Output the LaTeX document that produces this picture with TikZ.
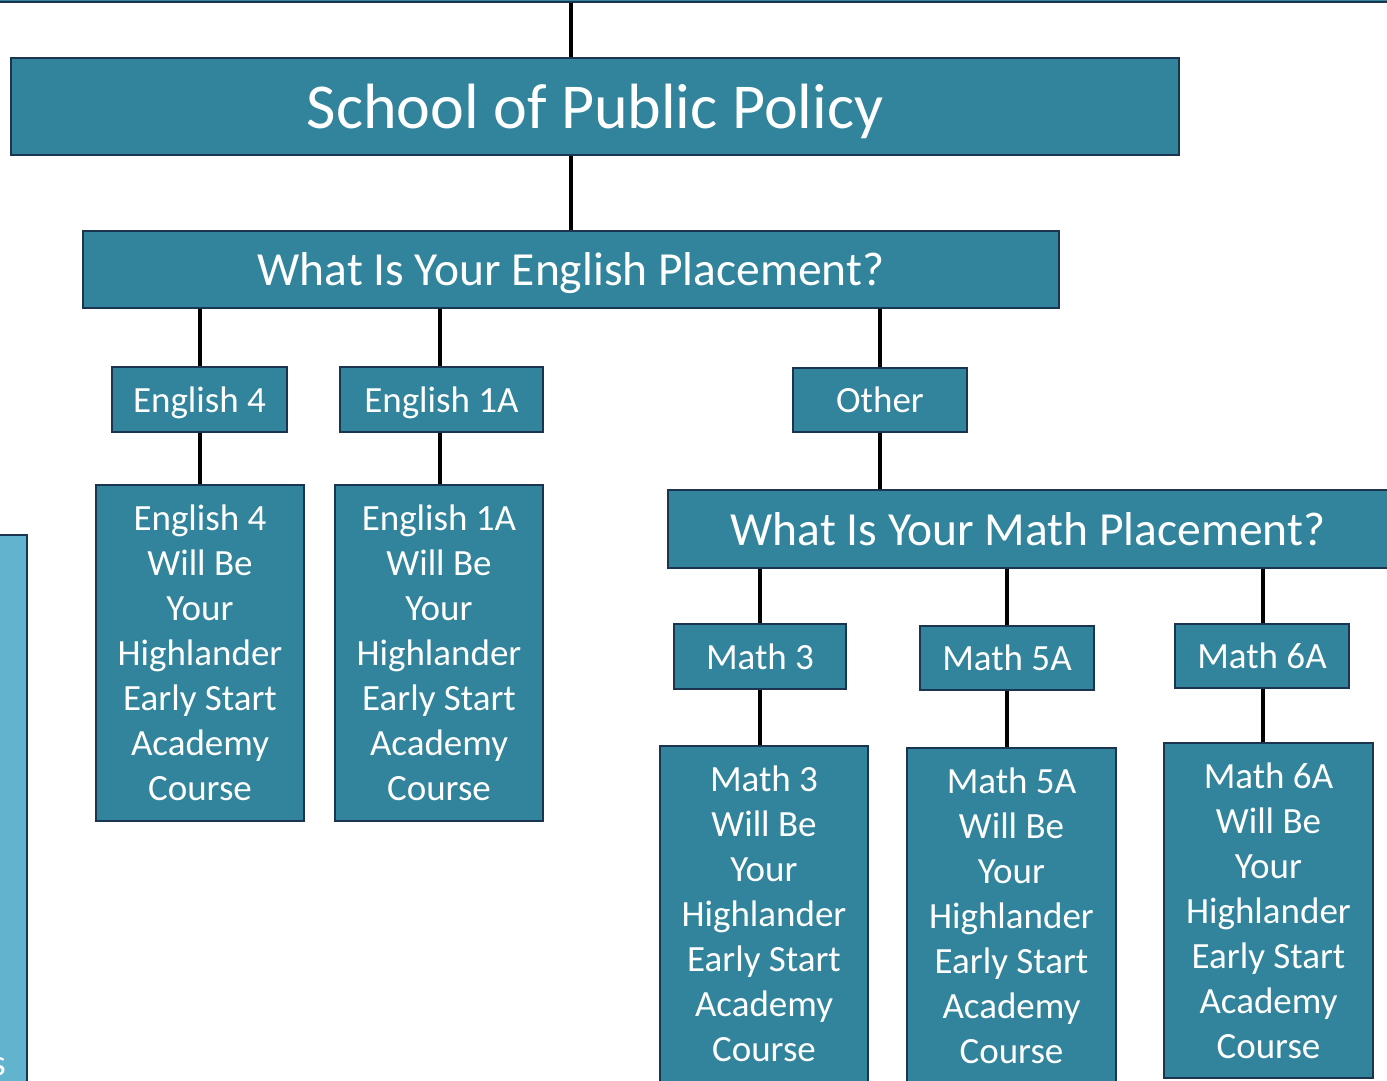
\documentclass[tikz,border=0pt]{standalone}
\usepackage{fontspec}
\setmainfont{Carlito}
\definecolor{boxfill}{HTML}{31849B}
\definecolor{boxline}{HTML}{1B3550}
\definecolor{lightfill}{HTML}{62B3CD}
\begin{document}
\begin{tikzpicture}[x=1pt,y=-1pt,
  box/.style={draw=boxline,line width=2pt,fill=boxfill,text=white,inner sep=0pt,align=center},
  lbox/.style={draw=boxline,line width=2pt,fill=lightfill,inner sep=0pt},
  link/.style={line width=4pt,black},
  big/.style={font=\fontsize{64}{77}\selectfont},
  mid/.style={font=\fontsize{47.5}{57}\selectfont},
  small/.style={font=\fontsize{37}{45}\selectfont},
  lowtext/.style={text depth=0.05em}]
\useasboundingbox (0,0) rectangle (1387,1081);
\clip (0,0) rectangle (1387,1081);
% cut-off boxes at the edges
\node[box, minimum width=1420, minimum height=40] (above) at (693,-18) {};
\node[lbox, minimum width=40, minimum height=570] (left) at (7,820) {};
\node[text=white, inner sep=0pt, anchor=base east, small] (lefts) at (6,1075) {s};
% main boxes
\node[box, big, lowtext, minimum width=1168, minimum height=97] (school) at (595,106.5) {School of Public Policy};
\node[box, mid, lowtext, minimum width=976, minimum height=77] (engp) at (571,269.5) {What Is Your English Placement?};
\node[box, small, lowtext, minimum width=175, minimum height=65] (eng4) at (199.5,399.5) {English 4};
\node[box, small, lowtext, minimum width=203, minimum height=65] (eng1a) at (441.5,399.5) {English 1A};
\node[box, small, minimum width=174, minimum height=64] (other) at (880,400) {Other};
\node[box, small, minimum width=208, minimum height=336] (eng4b) at (200,653) {English 4\\Will Be\\Your\\Highlander\\Early Start\\Academy\\Course};
\node[box, small, minimum width=208, minimum height=336] (eng1ab) at (439,653) {English 1A\\Will Be\\Your\\Highlander\\Early Start\\Academy\\Course};
\node[box, mid, minimum width=720, minimum height=78] (mathp) at (1028,529) {What Is Your Math Placement?};
\node[box, small, minimum width=172, minimum height=65] (m3) at (760,656.5) {Math 3};
\node[box, small, minimum width=174, minimum height=64] (m5) at (1007,658) {Math 5A};
\node[box, small, minimum width=174, minimum height=64] (m6) at (1262,656) {Math 6A};
\node[box, small, minimum width=208, minimum height=336] (m3b) at (764,914) {Math 3\\Will Be\\Your\\Highlander\\Early Start\\Academy\\Course};
\node[box, small, minimum width=209, minimum height=336] (m5b) at (1011.5,916) {Math 5A\\Will Be\\Your\\Highlander\\Early Start\\Academy\\Course};
\node[box, small, minimum width=209, minimum height=335] (m6b) at (1268.5,910.5) {Math 6A\\Will Be\\Your\\Highlander\\Early Start\\Academy\\Course};
% connectors
\draw[link] (engp.north |- above.south) -- (engp.north |- school.north);
\draw[link] (engp.north |- school.south) -- (engp.north);
\draw[link] (eng4.north |- engp.south) -- (eng4.north);
\draw[link] ([xshift=-1.5pt]eng1a.north |- engp.south) -- ([xshift=-1.5pt]eng1a.north);
\draw[link] (other.north |- engp.south) -- (other.north);
\draw[link] (eng4.south) -- (eng4.south |- eng4b.north);
\draw[link] ([xshift=-1.5pt]eng1a.south) -- ([xshift=-1.5pt]eng1a.south |- eng1ab.north);
\draw[link] (other.south) -- (other.south |- mathp.north);
\draw[link] (m3.north |- mathp.south) -- (m3.north);
\draw[link] (m5.north |- mathp.south) -- (m5.north);
\draw[link] ([xshift=1pt]m6.north |- mathp.south) -- ([xshift=1pt]m6.north);
\draw[link] (m3.south) -- (m3.south |- m3b.north);
\draw[link] (m5.south) -- (m5.south |- m5b.north);
\draw[link] ([xshift=1pt]m6.south) -- ([xshift=1pt]m6.south |- m6b.north);
\end{tikzpicture}
\end{document}
